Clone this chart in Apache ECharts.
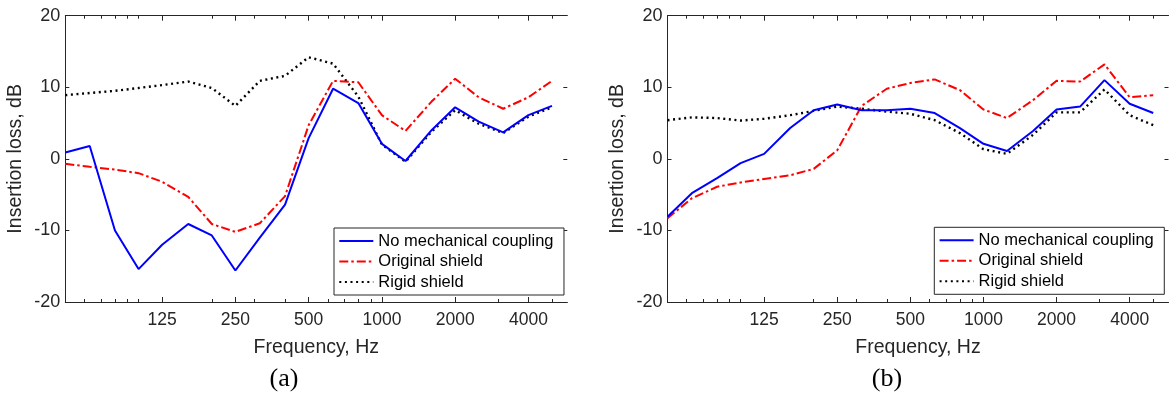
<!DOCTYPE html>
<html><head><meta charset="utf-8">
<script src="https://cdn.jsdelivr.net/npm/echarts@6/dist/echarts.min.js"></script>
<style>html,body{margin:0;padding:0;background:#fff}#c{width:1169px;height:394px}</style>
</head><body><div id="c"></div>
<script>
// ---- data ----
const freqs = [50,63,80,100,125,160,200,250,315,400,500,630,800,1000,1250,1600,2000,2500,3150,4000,5000];
const majorTicks = [125,250,500,1000,2000,4000];
const minorTicks = [60,70,80,90,100,200,300,400,600,700,800,900,3000,5000];
const freqMin = 50, freqMax = 5780;
const yMin = -20, yMax = 20, yStep = 10;
const seriesNames = ['No mechanical coupling','Original shield','Rigid shield'];
const panelLabels = ['(a)','(b)'];

// panel (a)
const aNoCoupling = [0.9,1.8,-10.0,-15.4,-12.0,-9.1,-10.7,-15.6,-11.0,-6.4,2.9,9.8,7.8,2.1,-0.3,4.0,7.2,5.2,3.7,6.1,7.4];
const aOriginal   = [-0.7,-1.1,-1.5,-2.0,-3.2,-5.3,-9.1,-10.2,-9.0,-5.2,4.7,10.9,10.7,6.1,3.9,8.0,11.2,8.6,7.0,8.6,10.9];
const aRigid      = [8.9,9.2,9.5,9.9,10.3,10.8,9.9,7.4,10.9,11.6,14.2,13.3,8.7,2.0,-0.4,3.8,6.8,4.9,3.6,5.9,7.2];
// panel (b)
const bNoCoupling = [-8.1,-4.8,-2.7,-0.6,0.7,4.3,6.8,7.6,6.8,6.8,7.0,6.4,4.3,2.1,1.1,3.9,6.9,7.3,11.0,7.7,6.4];
const bOriginal   = [-8.3,-5.5,-3.9,-3.3,-2.8,-2.3,-1.4,1.2,7.4,9.8,10.6,11.1,9.6,6.9,5.7,8.2,10.9,10.8,13.2,8.6,8.9];
const bRigid      = [5.4,5.8,5.7,5.35,5.6,6.1,6.7,7.3,7.0,6.6,6.3,5.4,3.6,1.35,0.7,3.35,6.5,6.5,9.7,6.1,4.7];

// ---- chart ----
const FONT = '"Liberation Sans", Arial, sans-serif';
const AX = '#262626';
const lg = v => Math.log10(v);
const panels = [
  {grid:{left:65.3, top:15.7, right:601.7, bottom:92}, legend:{left:334, top:228}, label:{x:284, y:379},
   data:[aNoCoupling,aOriginal,aRigid]},
  {grid:{left:667.5, top:15.7, right:0.5, bottom:92}, legend:{left:934.3, top:227.3}, label:{x:887, y:379},
   data:[bNoCoupling,bOriginal,bRigid]}
];
const styles = [
  {color:'#0000ff', lineStyle:{width:2, type:'solid'}},
  {color:'#ff0000', lineStyle:{width:2, type:[9,3,2.5,3]}},
  {color:'#000000', lineStyle:{width:2.4, type:[2,3.6]}}
];

const grid = [], xAxis = [], yAxis = [], series = [], legend = [], graphic = [];
panels.forEach((p, pi) => {
  grid.push(p.grid);
  const base = {type:'value', gridIndex:pi, min:lg(freqMin), max:lg(freqMax), splitLine:{show:false}};
  const line = {show:true, onZero:false, lineStyle:{color:AX, width:1}};
  xAxis.push(Object.assign({}, base, {
    position:'bottom', axisLine:line,
    axisTick:{show:true, inside:true, length:5, customValues:majorTicks.map(lg), lineStyle:{color:AX}},
    axisLabel:{show:true, customValues:majorTicks.map(lg), formatter:v => String(Math.round(Math.pow(10, v))),
               fontSize:17.5, color:AX, fontFamily:FONT, margin:9},
    name:'Frequency, Hz', nameLocation:'middle', nameGap:36,
    nameTextStyle:{fontSize:19.5, color:AX, fontFamily:FONT}
  }));
  xAxis.push(Object.assign({}, base, {
    position:'bottom', axisLine:{show:false, onZero:false},
    axisTick:{show:true, inside:true, length:3, customValues:minorTicks.map(lg), lineStyle:{color:AX}},
    axisLabel:{show:false}
  }));
  xAxis.push(Object.assign({}, base, {
    position:'top', axisLine:line,
    axisTick:{show:true, inside:true, length:5, customValues:majorTicks.map(lg), lineStyle:{color:AX}},
    axisLabel:{show:false}
  }));
  xAxis.push(Object.assign({}, base, {
    position:'top', axisLine:{show:false, onZero:false},
    axisTick:{show:true, inside:true, length:3, customValues:minorTicks.map(lg), lineStyle:{color:AX}},
    axisLabel:{show:false}
  }));
  yAxis.push({type:'value', gridIndex:pi, min:yMin, max:yMax, interval:yStep, position:'left',
    splitLine:{show:false}, axisLine:line,
    axisTick:{show:true, inside:true, length:4, lineStyle:{color:AX}},
    axisLabel:{fontSize:18, color:AX, fontFamily:FONT, margin:5},
    name:'Insertion loss, dB', nameLocation:'middle', nameRotate:90, nameGap:40,
    nameTextStyle:{fontSize:19.5, color:AX, fontFamily:FONT}});
  yAxis.push({type:'value', gridIndex:pi, min:yMin, max:yMax, interval:yStep, position:'right',
    splitLine:{show:false}, axisLine:{show:false, onZero:false},
    axisTick:{show:true, inside:true, length:4, lineStyle:{color:AX}},
    axisLabel:{show:false}});
  p.data.forEach((vals, si) => {
    series.push({
      type:'line', name:seriesNames[si], xAxisIndex:pi*4, yAxisIndex:pi*2,
      data:freqs.map((f, i) => [lg(f), vals[i]]),
      symbol:'none', animation:false, z:2+ (2-si),
      color:styles[si].color, lineStyle:Object.assign({color:styles[si].color}, styles[si].lineStyle)
    });
  });
  legend.push({
    orient:'vertical', left:p.legend.left, top:p.legend.top, padding:[4.5,10.5,4.5,4.3],
    itemWidth:34, itemHeight:14, itemGap:3.5, borderColor:AX, borderWidth:1, backgroundColor:'#fff',
    textStyle:{fontSize:16.5, color:'#000', fontFamily:FONT}, itemStyle:{opacity:0},
    selectedMode:false, data:seriesNames
  });
  graphic.push({type:'text', x:p.label.x, y:p.label.y,
    style:{text:panelLabels[pi], fontSize:26, fontFamily:'"Liberation Serif", "Times New Roman", serif',
           fill:'#000', align:'center', verticalAlign:'middle'}});
});

const chart = echarts.init(document.getElementById('c'), null, {renderer:'canvas'});
chart.setOption({animation:false, backgroundColor:'#fff', grid, xAxis, yAxis, series, legend, graphic});
</script>
</body></html>
